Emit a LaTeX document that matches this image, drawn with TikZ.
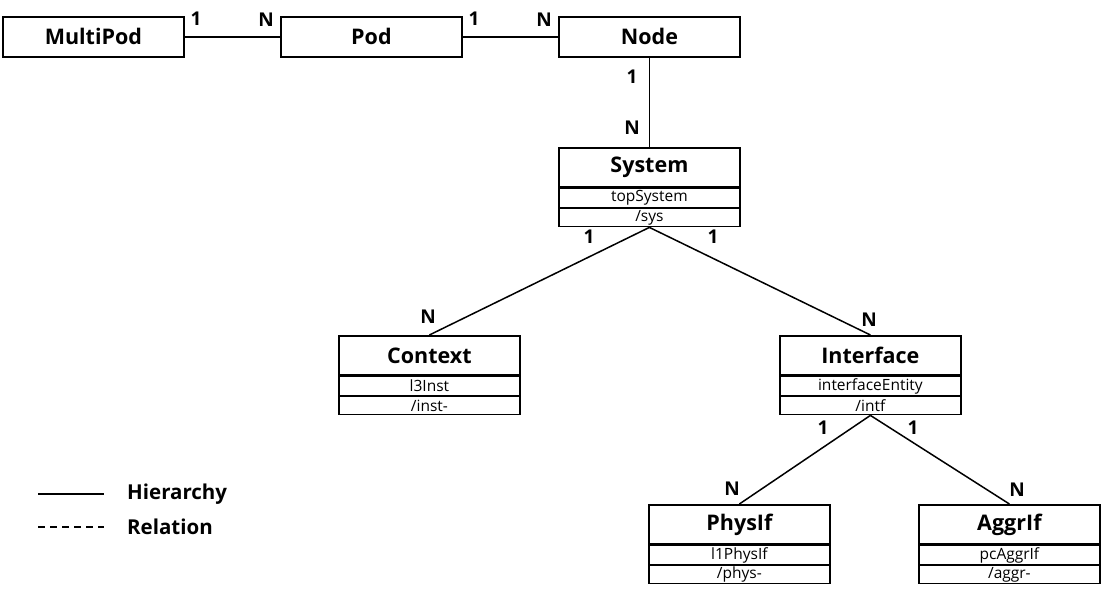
\documentclass[tikz,border=0pt]{standalone}
\usepackage{fontspec}
\setmainfont{Open Sans}
\begin{document}
\begin{tikzpicture}[x=1pt,y=-1pt,
  hdr/.style={draw, line width=1.8pt, minimum width=181pt, minimum height=39pt, inner sep=0pt,
    font=\bfseries\fontsize{21.5}{23}\selectfont, anchor=north west},
  row/.style={draw, line width=1.3pt, minimum width=181pt, minimum height=19pt, inner sep=0pt,
    font=\fontsize{15.5}{16}\selectfont, anchor=north},
  conn/.style={line width=1.5pt},
  card/.style={font=\bfseries\fontsize{19}{20}\selectfont, inner sep=0pt},
  legtext/.style={font=\bfseries\fontsize{20.5}{21}\selectfont, inner sep=0pt, anchor=west}]
\useasboundingbox (0,0) rectangle (1101,593);
% top row
\node[hdr, minimum height=40pt] (multipod) at (2,16) {MultiPod};
\node[hdr, minimum height=40pt] (pod) at (280,16) {Pod};
\node[hdr, minimum height=40pt] (node) at (558,16) {Node};
% System
\node[hdr] (system) at (558,147) {System};
\node[row] (systemA) at (system.south) {topSystem};
\node[row, minimum height=18pt] (systemB) at (systemA.south) {/sys};
% Context
\node[hdr] (context) at (338,335) {Context};
\node[row] (contextA) at (context.south) {l3Inst};
\node[row, minimum height=18pt] (contextB) at (contextA.south) {/inst-};
% Interface
\node[hdr] (interface) at (779,335) {Interface};
\node[row] (interfaceA) at (interface.south) {interfaceEntity};
\node[row, minimum height=18pt] (interfaceB) at (interfaceA.south) {/intf};
% PhysIf
\node[hdr] (physif) at (648,504) {PhysIf};
\node[row] (physifA) at (physif.south) {l1PhysIf};
\node[row, minimum height=18pt] (physifB) at (physifA.south) {/phys-};
% AggrIf
\node[hdr] (aggrif) at (918,504) {AggrIf};
\node[row] (aggrifA) at (aggrif.south) {pcAggrIf};
\node[row, minimum height=18pt] (aggrifB) at (aggrifA.south) {/aggr-};
% connectors
\draw[conn] (multipod.east) -- (pod.west);
\draw[conn] (pod.east) -- (node.west);
\draw[conn] (node.south) -- (system.north);
\draw[conn] (systemB.south) -- (context.north);
\draw[conn] (systemB.south) -- (interface.north);
\draw[conn] (interfaceB.south) -- (physif.north);
\draw[conn] (interfaceB.south) -- (aggrif.north);
% cardinalities
\node[card] (c1) at (196,19) {1};
\node[card] (c2) at (266,20) {N};
\node[card] (c3) at (474,19) {1};
\node[card] (c4) at (544,20) {N};
\node[card] (c5) at (632,77) {1};
\node[card] (c6) at (632,128) {N};
\node[card] (c7) at (589,237) {1};
\node[card] (c8) at (428,317) {N};
\node[card] (c9) at (713,237) {1};
\node[card] (c10) at (869,320) {N};
\node[card] (c11) at (823,428) {1};
\node[card] (c12) at (732,489) {N};
\node[card] (c13) at (913,428) {1};
\node[card] (c14) at (1017,490) {N};
% legend
\coordinate (l1a) at (38,494);
\coordinate (l1b) at (104,494);
\coordinate (l2a) at (38,527);
\coordinate (l2b) at (104,527);
\draw[conn] (l1a) -- (l1b);
\draw[conn, dash pattern=on 7pt off 5pt] (l2a) -- (l2b);
\node[legtext] (hier) at (127,494) {Hierarchy};
\node[legtext] (rel) at (127,527) {Relation};
\end{tikzpicture}
\end{document}
